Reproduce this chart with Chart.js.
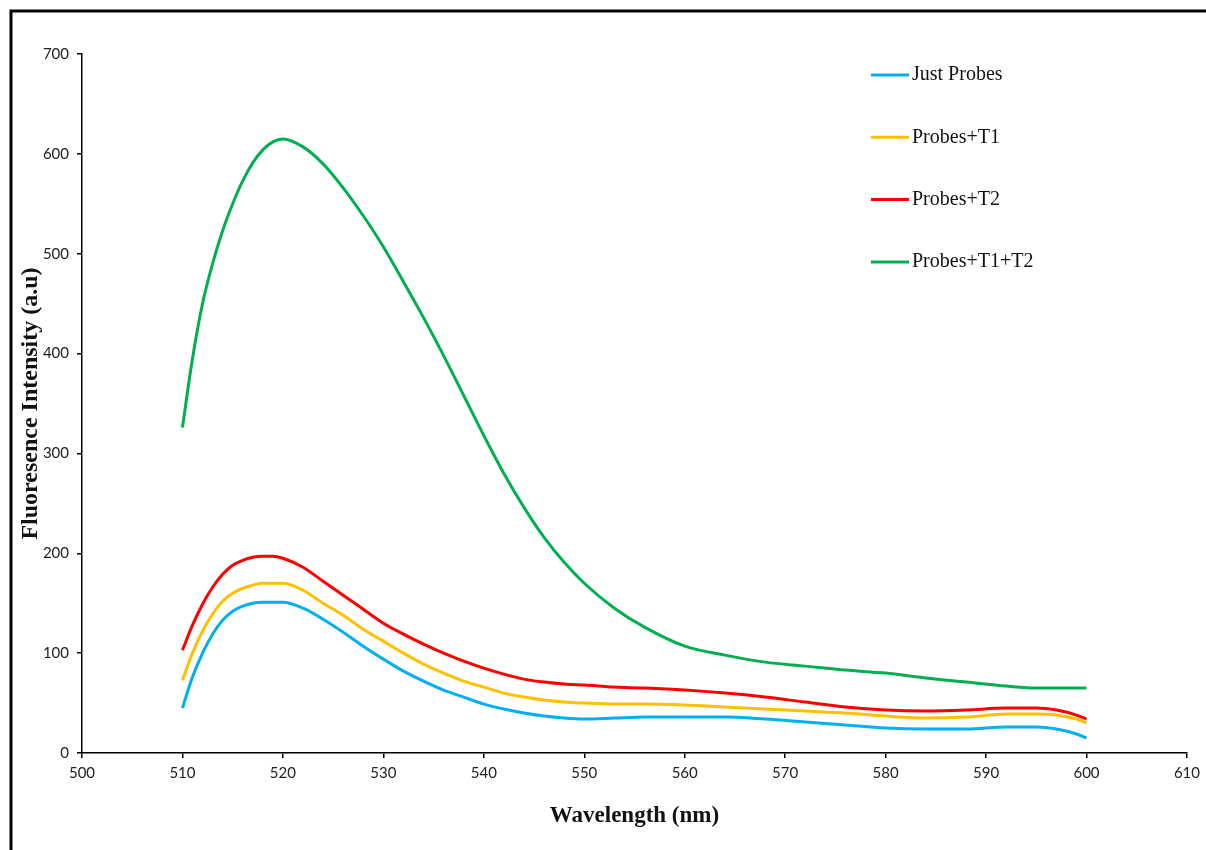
<!DOCTYPE html>
<html>
<head>
<meta charset="utf-8">
<script src="https://cdn.jsdelivr.net/npm/chart.js@4.4.1/dist/chart.umd.min.js"></script>
<style>
    html, body { margin: 0; padding: 0; background: #fff; }
    #wrap { position: relative; width: 1206px; height: 850px; }
</style>
</head>
<body>
<div id="wrap">
    <canvas id="spectrumChart" width="1206" height="850"></canvas>
</div>
<script>
// ---- DATA ----

// wavelength points (nm)
const wavelengths = [510, 511, 512, 513, 514, 515, 516, 517, 518, 519, 520, 522, 524, 526, 528, 530, 532, 534, 536, 538,
    540, 542, 544, 546, 548, 550, 553, 556, 560, 564, 568, 572, 576, 580, 584, 588, 592, 595, 597, 599, 600];

const justProbes = [45, 76, 100, 119, 133, 142, 147, 150, 151, 151, 151, 145, 134, 121, 107, 94, 82, 72, 63, 56,
    49, 44, 40, 37, 35, 34, 35, 36, 36, 36, 34, 31, 28, 25, 24, 24, 26, 26, 24, 19, 15];

const probesT1 = [73, 100, 122, 139, 152, 160, 165, 168, 170, 170, 170, 163, 150, 138, 124, 112, 100, 89, 80, 72,
    66, 60, 56, 53, 51, 50, 49, 49, 48, 46, 44, 42, 40, 37, 35, 36, 39, 39, 38, 34, 30];

const probesT2 = [103, 128, 149, 166, 179, 188, 193, 196, 197, 197, 195, 186, 172, 158, 144, 130, 119, 109, 100, 92,
    85, 79, 74, 71, 69, 68, 66, 65, 63, 60, 56, 51, 46, 43, 42, 43, 45, 45, 43, 38, 34];

const probesT1T2 = [326, 395, 450, 490, 523, 550, 573, 591, 604, 612, 615, 607, 590, 566, 538, 507, 472, 436, 398, 358,
    318, 280, 246, 216, 191, 170, 145, 126, 107, 98, 91, 87, 83, 80, 75, 71, 67, 65, 65, 65, 65];

const seriesLabels = ["Just Probes", "Probes+T1", "Probes+T2", "Probes+T1+T2"];
const seriesColors = ["#00B0F0", "#FFC000", "#FF0000", "#00B050"];
const seriesValues = [justProbes, probesT1, probesT2, probesT1T2];

// ---- CUSTOM LEGEND + FRAME ----

const legendAndFrame = {
    id: "legendAndFrame",
    afterDraw(chart) {
        const ctx = chart.ctx;
        ctx.save();

        // frame: top and left edge only
        ctx.strokeStyle = "#000";
        ctx.lineWidth = 3;
        ctx.beginPath();
        ctx.moveTo(11, 850);
        ctx.lineTo(11, 11);
        ctx.lineTo(1206, 11);
        ctx.stroke();

        // legend rows
        chart.data.datasets.forEach((ds, i) => {
            const y = 75 + i * 62.3;
            ctx.strokeStyle = ds.borderColor;
            ctx.lineWidth = 3;
            ctx.beginPath();
            ctx.moveTo(871, y);
            ctx.lineTo(909, y);
            ctx.stroke();

            ctx.fillStyle = "#111";
            ctx.font = "20px 'Liberation Serif', serif";
            ctx.textBaseline = "middle";
            ctx.textAlign = "left";
            ctx.fillText(ds.label, 912, y);
        });

        ctx.restore();
    }
};

// ---- CHART ----

const tickFont = { family: "Lato, 'Open Sans', sans-serif", size: 15 };

new Chart(document.getElementById("spectrumChart").getContext("2d"), {
    type: "line",
    data: {
        datasets: seriesLabels.map((label, i) => ({
            label: label,
            data: wavelengths.map((w, j) => ({ x: w, y: seriesValues[i][j] })),
            borderColor: seriesColors[i],
            backgroundColor: seriesColors[i],
            borderWidth: 3,
            pointRadius: 0,
            fill: false,
            cubicInterpolationMode: "monotone"
        }))
    },
    options: {
        responsive: false,
        animation: false,
        devicePixelRatio: 1,
        layout: { padding: { top: 54, right: 18, left: 0, bottom: 0 } },
        plugins: {
            legend: { display: false },
            tooltip: { enabled: false }
        },
        scales: {
            x: {
                type: "linear",
                min: 500,
                max: 610,
                border: { color: "#000", width: 1.5 },
                grid: { drawOnChartArea: false, drawTicks: true, tickLength: 5, color: "#000", lineWidth: 1.5 },
                ticks: { stepSize: 10, padding: 6, color: "#222", font: tickFont },
                title: {
                    display: true,
                    text: "Wavelength (nm)",
                    color: "#111",
                    font: { family: "'Liberation Serif', serif", size: 23, weight: "bold" },
                    padding: { top: 0, bottom: 20 }
                },
                afterFit(scale) { scale.height = 97; }
            },
            y: {
                min: 0,
                max: 700,
                border: { color: "#000", width: 1.5 },
                grid: { drawOnChartArea: false, drawTicks: true, tickLength: 5, color: "#000", lineWidth: 1.5 },
                ticks: { stepSize: 100, padding: 8, color: "#222", font: tickFont },
                title: {
                    display: true,
                    text: "Fluoresence Intensity (a.u)",
                    color: "#111",
                    font: { family: "'Liberation Serif', serif", size: 24, weight: "bold" },
                    padding: { top: 16, bottom: 0 }
                },
                afterFit(scale) { scale.width = 82; }
            }
        }
    },
    plugins: [legendAndFrame]
});
</script>
</body>
</html>
